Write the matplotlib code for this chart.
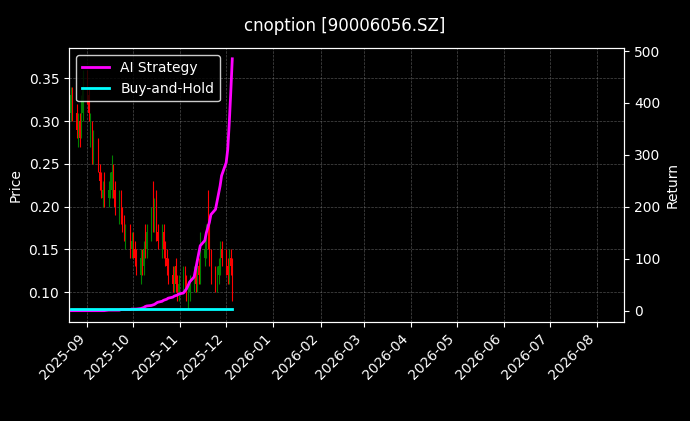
import numpy as np
import pandas as pd
import matplotlib.pyplot as plt
import matplotlib.dates as mdates

dates = pd.bdate_range('2025-08-21', '2025-12-05')

close = [0.33, 0.31, 0.29, 0.30, 0.28, 0.32, 0.34,
         0.33, 0.31, 0.30, 0.26, 0.28, 0.25, 0.23, 0.22, 0.22, 0.21,
         0.22, 0.23, 0.24, 0.22, 0.20, 0.21, 0.19, 0.18, 0.17, 0.17, 0.15, 0.16,
         0.15, 0.14, 0.13, 0.14, 0.13, 0.15, 0.16, 0.17, 0.19, 0.18,
         0.20, 0.17, 0.16, 0.17, 0.15, 0.14, 0.13, 0.12, 0.11, 0.12, 0.11, 0.10, 0.11,
         0.12, 0.11, 0.10, 0.10, 0.11, 0.12, 0.11, 0.13, 0.12, 0.14,
         0.15, 0.16, 0.17, 0.14, 0.12, 0.11, 0.12, 0.13, 0.15, 0.14,
         0.13, 0.12, 0.14, 0.13, 0.12]
opn = [0.31, 0.33, 0.31, 0.28, 0.30, 0.29, 0.31,
       0.35, 0.33, 0.28, 0.29, 0.26, 0.27, 0.24, 0.23, 0.21, 0.23,
       0.21, 0.22, 0.22, 0.24, 0.22, 0.19, 0.21, 0.19, 0.18, 0.16, 0.17, 0.15,
       0.16, 0.15, 0.14, 0.12, 0.14, 0.13, 0.17, 0.15, 0.17, 0.21,
       0.18, 0.21, 0.17, 0.15, 0.17, 0.15, 0.14, 0.13, 0.12, 0.11, 0.13, 0.11, 0.10,
       0.11, 0.12, 0.11, 0.09, 0.10, 0.11, 0.12, 0.11, 0.13, 0.12,
       0.14, 0.15, 0.18, 0.17, 0.14, 0.12, 0.11, 0.12, 0.13, 0.15,
       0.14, 0.13, 0.12, 0.14, 0.13]
high = [0.34, 0.34, 0.32, 0.31, 0.31, 0.33, 0.36,
        0.36, 0.34, 0.31, 0.30, 0.29, 0.28, 0.25, 0.24, 0.23, 0.24,
        0.23, 0.24, 0.26, 0.25, 0.23, 0.22, 0.22, 0.20, 0.19, 0.18, 0.18, 0.17,
        0.17, 0.16, 0.15, 0.15, 0.15, 0.16, 0.18, 0.18, 0.20, 0.23,
        0.21, 0.22, 0.18, 0.18, 0.18, 0.16, 0.15, 0.14, 0.13, 0.13, 0.14, 0.12, 0.12,
        0.13, 0.13, 0.12, 0.11, 0.12, 0.13, 0.13, 0.14, 0.14, 0.17,
        0.16, 0.18, 0.22, 0.19, 0.15, 0.13, 0.13, 0.14, 0.16, 0.16,
        0.15, 0.14, 0.15, 0.15, 0.14]
low = [0.30, 0.30, 0.28, 0.27, 0.27, 0.28, 0.30,
       0.32, 0.30, 0.27, 0.25, 0.25, 0.24, 0.22, 0.21, 0.20, 0.20,
       0.20, 0.21, 0.21, 0.21, 0.19, 0.18, 0.18, 0.17, 0.16, 0.15, 0.14, 0.14,
       0.14, 0.13, 0.12, 0.11, 0.12, 0.12, 0.14, 0.14, 0.16, 0.17,
       0.17, 0.16, 0.15, 0.14, 0.14, 0.13, 0.12, 0.11, 0.10, 0.10, 0.10, 0.09, 0.09,
       0.10, 0.10, 0.09, 0.08, 0.09, 0.10, 0.10, 0.10, 0.11, 0.11,
       0.13, 0.14, 0.15, 0.13, 0.11, 0.10, 0.10, 0.11, 0.12, 0.13,
       0.12, 0.11, 0.11, 0.12, 0.09]

ai_return = [0, 0, 0, 0, 0, 0, 0,
             0, 0, 0, 0, 0, 0, 0, 0, 0, 0,
             1, 1, 1, 1, 1, 1, 2, 2, 2, 2, 2, 3,
             3, 3, 3, 4, 5, 6, 8, 9, 10, 11,
             12, 14, 16, 18, 20, 21, 22, 24, 26, 28, 29, 30, 32,
             34, 38, 42, 48, 55, 65, 80, 95, 110, 125,
             135, 150, 160, 170, 185, 195, 210, 225, 240, 260,
             285, 310, 360, 420, 485]
bh_return = [3] * len(dates)

fig = plt.figure(figsize=(6.9, 4.21), dpi=100, facecolor='black')
ax = fig.add_axes([0.1, 0.235, 0.805, 0.65])
ax.set_facecolor('black')
ax2 = ax.twinx()

for d, o, c, h, l in zip(dates, opn, close, high, low):
    col = 'green' if c >= o else 'red'
    ax.vlines(d, l, h, color=col, linewidth=0.8)
    ax.bar(d, abs(c - o), bottom=min(o, c), width=0.5, color=col)

ax2.plot(dates, ai_return, color='magenta', linewidth=2, label='AI Strategy')
ax2.plot(dates, bh_return, color='cyan', linewidth=2, label='Buy-and-Hold')

ax.set_xlim(pd.Timestamp('2025-08-20'), pd.Timestamp('2026-08-19'))
ax.set_ylim(0.065, 0.385)
ax2.set_ylim(-22, 505)
ax.xaxis.set_major_locator(mdates.MonthLocator())
ax.xaxis.set_major_formatter(mdates.DateFormatter('%Y-%m'))
plt.setp(ax.get_xticklabels(), rotation=45, ha='right')

for a in (ax, ax2):
    a.tick_params(colors='white')
    for s in a.spines.values():
        s.set_color('white')
ax.grid(True, color='gray', linestyle='--', linewidth=0.5, alpha=0.6)
ax.set_ylabel('Price', color='white')
ax2.set_ylabel('Return', color='white')
fig.suptitle('cnoption [90006056.SZ]', color='white', y=0.96)

leg = ax2.legend(loc='upper left', facecolor='black', edgecolor='white')
for t in leg.get_texts():
    t.set_color('white')

fig.savefig('out.png', facecolor='black')
